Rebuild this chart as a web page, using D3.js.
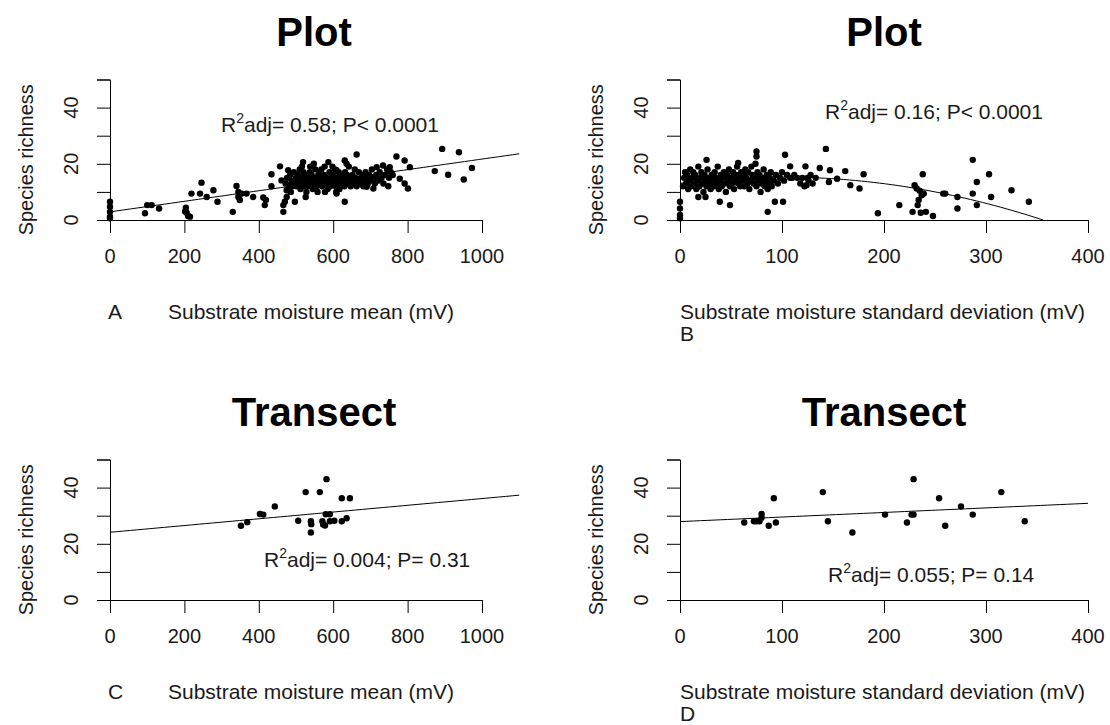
<!DOCTYPE html>
<html>
<head>
<meta charset="utf-8">
<script src="https://cdn.jsdelivr.net/npm/d3@7"></script>
<style>
  body { margin: 0; background: #fff; }
  svg text { font-family: "Liberation Sans", Arial, sans-serif; fill: #1a1a1a; }
  .title { font-weight: bold; font-size: 40px; fill: #000; }
  .tick-label { font-size: 20px; }
  .axis-title, .note { font-size: 21px; }
</style>
</head>
<body>
<div id="chart"></div>
<script>
// Species richness vs substrate moisture, 4 panels

// panel A: plot level, moisture mean
const plotMeanPts = [
  [0, 6.5], [0, 4.7], [0, 2.9], [0, 1.2], [0, 0.6],
  [94, 2.4], [100, 5.3], [112, 5.3], [132, 4.1],
  [202, 3], [204, 4.4], [206, 2.6], [210, 1.4], [215, 1.2],
  [219, 9.4], [242, 9.4], [246, 13.3], [260, 8.2], [278, 10.6], [289, 6.5],
  [330, 2.9], [340, 12.1], [345, 10], [345, 8.2], [349, 7.1], [354, 9.4], [367, 9.4], [385, 8.2],
  [412, 8], [416, 5.3], [419, 7.1],
  [434, 12], [434, 16.3], [457, 19.1], [461, 14.1], [466, 2.9], [466, 5.3], [470, 6.5],
  [475, 10.6], [475, 8.2], [479, 17.7], [484, 12.4],
  [497, 6.5], [526, 8.2], [519, 20.6], [587, 20.6], [609, 17.7], [609, 9.4], [631, 6.5],
  [631, 21.2], [636, 20], [663, 23.3], [690, 11.8], [708, 11.2], [717, 18.8], [734, 19.4],
  [752, 18.8], [770, 22.6], [779, 14.7], [792, 21.2], [792, 13], [801, 11.2], [806, 18.8],
  [873, 17.4], [893, 25.3], [909, 16.1], [938, 24.1], [951, 14.4], [973, 18.5],
  [472, 13], [476, 15], [480, 11], [484, 16], [488, 14], [490, 12], [494, 17], [498, 13], [500, 15], [486, 10],
  [502, 12], [505, 16], [508, 14], [510, 18], [512, 11], [515, 13], [518, 15], [520, 17], [522, 12],
  [525, 14], [527, 16], [530, 13], [528, 10], [516, 19],
  [532, 15], [535, 12], [537, 17], [540, 14], [542, 16], [545, 11], [547, 13], [550, 15], [552, 18],
  [555, 12], [557, 14], [560, 16], [538, 19], [548, 20], [558, 10],
  [562, 13], [565, 15], [567, 17], [570, 12], [572, 14], [575, 16], [577, 19], [580, 13], [582, 15],
  [585, 11], [587, 14], [590, 17], [568, 18], [578, 10],
  [592, 12], [595, 15], [597, 13], [600, 16], [602, 14], [605, 18], [607, 12], [610, 15], [612, 13],
  [615, 17], [617, 11], [620, 14], [598, 19], [608, 10],
  [622, 16], [625, 13], [627, 15], [630, 12], [632, 17], [635, 14], [637, 16], [640, 13], [642, 19],
  [645, 15], [647, 12], [650, 14],
  [652, 16], [655, 13], [658, 18], [660, 15], [663, 12], [666, 14], [669, 17], [672, 13], [675, 15],
  [678, 16], [681, 12], [684, 14], [687, 17], [690, 15],
  [693, 13], [697, 16], [700, 14], [704, 18], [708, 15], [712, 13], [716, 16], [720, 14], [725, 17],
  [730, 15], [735, 13], [740, 16], [745, 18], [750, 15], [755, 17], [760, 16], [748, 12]
]

// panel B: plot level, moisture standard deviation
const plotSdPts = [
  [0, 6.5], [0, 4.1], [0, 1.8], [0, 0.6],
  [86, 2.9], [93, 6.5], [101, 6.5], [103, 23.2], [75, 24.4], [75, 22.6], [26, 21.4], [57, 20.3],
  [39, 6.5], [49, 5.3], [18, 8.2], [25, 8.2],
  [108, 19.1], [123, 19.1], [124, 12.4], [126, 14.1], [137, 18.5], [143, 25.3], [147, 17.7],
  [146, 13.5], [154, 14.7], [162, 17.4], [167, 12.4], [176, 11.2], [180, 16.3],
  [194, 2.4], [215, 5.3], [228, 2.9], [230, 12.4], [232, 11.2], [235, 10.4], [237, 8.8], [234, 7.1],
  [233, 5.3], [238, 16.3], [239, 9.4], [236, 2.6], [241, 2.9], [248, 1.4],
  [258, 9.4], [260, 9.4], [272, 8.2], [272, 4.1], [287, 21.4], [287, 9.4], [291, 13.5], [291, 5.3],
  [303, 16.3], [305, 8.2], [325, 10.6], [342, 6.5],
  [3, 12], [4, 15], [5, 17], [6, 13], [7, 16], [8, 11], [9, 14], [10, 18], [11, 12], [12, 15],
  [13, 17], [14, 13], [15, 16], [16, 11], [17, 14], [18, 19], [19, 12], [20, 15],
  [21, 17], [22, 13], [23, 10], [24, 16], [25, 14], [26, 12], [27, 18], [28, 15], [29, 13], [30, 11],
  [31, 16], [32, 14], [33, 12], [34, 17], [35, 15], [36, 13], [37, 19], [38, 11], [39, 14], [40, 16],
  [41, 12], [42, 15], [43, 17], [44, 13], [45, 10], [46, 16], [47, 14], [48, 18], [49, 12], [50, 15],
  [51, 13], [52, 17], [53, 11], [54, 14], [55, 16], [56, 19], [57, 13], [58, 15], [59, 12], [60, 17],
  [61, 14], [62, 16], [63, 12], [64, 18], [65, 15], [66, 13], [67, 17], [68, 11], [69, 14], [70, 19],
  [71, 16], [72, 13], [73, 15], [74, 20], [75, 12], [76, 17], [77, 14], [78, 16], [79, 10], [80, 13],
  [81, 15], [82, 18], [83, 12], [84, 14], [85, 16], [86, 11], [87, 13], [88, 15], [89, 17], [90, 12],
  [92, 14], [94, 16], [96, 13], [98, 15], [100, 17],
  [102, 14], [105, 16], [108, 15], [110, 15], [112, 16], [115, 15], [118, 13], [120, 15], [122, 12],
  [125, 15], [128, 16], [130, 13], [133, 15]
]

// panel C: transect level, moisture mean
const transMeanPts = [
  [352, 26.4], [369, 27.7], [403, 30.6], [412, 30.4], [443, 33.3], [506, 28.2], [526, 38.4],
  [540, 28.0], [540, 24.0], [541, 27.0], [564, 38.4], [571, 28], [573, 26.9], [582, 43.0],
  [578, 26.5], [580, 30.5], [591, 30.5], [591, 28], [603, 28.2], [623, 36.2], [645, 36.2],
  [623, 28], [636, 29.1]
]

// panel D: transect level, moisture standard deviation
const transSdPts = [
  [63, 27.6], [72.5, 28.0], [75, 28], [80, 30.6], [80, 29.3], [78, 28], [87, 26.4], [92, 36.2],
  [94, 27.6], [140, 38.4], [145, 28], [169, 24], [201, 30.4], [222.5, 27.6], [229, 43],
  [229, 30.4], [227, 30.4], [254, 36.2], [260, 26.4], [275.5, 33.3], [287, 30.4], [315, 38.4],
  [338, 28]
]

// fitted model coefficients: intercept, slope (, quadratic)
const fitPlotMean = [2.9, 0.01878]
const fitPlotSd = [13.03, 0.0458, -0.0002315]
const fitTransMean = [24.1, 0.0120]
const fitTransSd = [27.9, 0.01625]

const meanTicks = [0, 200, 400, 600, 800, 1000]
const sdTicks = [0, 100, 200, 300, 400]
const yTicks = [0, 10, 20, 30, 40, 50]
const yLabelTicks = [0, 20, 40]

const titles = ['Plot', 'Plot', 'Transect', 'Transect']
const notes = [
  ['0.58', 'P< 0.0001'],
  ['0.16', 'P< 0.0001'],
  ['0.004', 'P= 0.31'],
  ['0.055', 'P= 0.14']
]
const letters = ['A', 'B', 'C', 'D']
const xTitles = ['Substrate moisture mean (mV)', 'Substrate moisture standard deviation (mV)']

const width = 1110
const height = 725

const svg = d3.select('#chart')
  .append('svg')
  .attr('width', width)
  .attr('height', height)

svg.append('rect').attr('width', width).attr('height', height).attr('fill', '#fff')

// panel layout (left edge, bottom axis y)
const panels = [
  { left: 110, bottom: 220, kind: 'mean', pts: plotMeanPts, fit: fitPlotMean, fitMax: 1100, noteX: 221, noteY: 132 },
  { left: 680, bottom: 220, kind: 'sd', pts: plotSdPts, fit: fitPlotSd, fitMax: 356, noteX: 825, noteY: 119 },
  { left: 110, bottom: 600, kind: 'mean', pts: transMeanPts, fit: fitTransMean, fitMax: 1100, noteX: 264, noteY: 567 },
  { left: 680, bottom: 600, kind: 'sd', pts: transSdPts, fit: fitTransSd, fitMax: 400, noteX: 828, noteY: 582 }
]

panels.forEach((p, i) => {
  const isMean = p.kind === 'mean'
  const x = d3.scaleLinear()
    .domain(isMean ? [0, 1000] : [0, 400])
    .range(isMean ? [p.left, p.left + 372] : [p.left, p.left + 408])
  const y = d3.scaleLinear().domain([0, 50]).range([p.bottom, p.bottom - 140.5])
  const g = svg.append('g')

  // title
  g.append('text')
    .attr('class', 'title')
    .attr('x', p.left + 204)
    .attr('y', p.bottom - 174)
    .attr('text-anchor', 'middle')
    .text(titles[i])

  // x axis
  const xAxis = d3.axisBottom(x)
    .tickValues(isMean ? meanTicks : sdTicks)
    .tickSize(13)
    .tickFormat('')
  const xg = g.append('g').attr('transform', `translate(0, ${p.bottom})`).call(xAxis)
  xg.select('.domain').attr('stroke', '#000')
  xg.selectAll('line').attr('stroke', '#000')
  g.selectAll(null)
    .data(isMean ? meanTicks : sdTicks)
    .enter()
    .append('text')
    .attr('class', 'tick-label')
    .attr('x', d => x(d))
    .attr('y', p.bottom + 43)
    .attr('text-anchor', 'middle')
    .text(d => d)

  // y axis
  const yAxis = d3.axisLeft(y).tickValues(yTicks).tickSize(13).tickFormat('')
  const yg = g.append('g').attr('transform', `translate(${p.left}, 0)`).call(yAxis)
  yg.select('.domain').attr('stroke', '#000')
  yg.selectAll('line').attr('stroke', '#000')
  g.selectAll(null)
    .data(yLabelTicks)
    .enter()
    .append('text')
    .attr('class', 'tick-label')
    .attr('transform', d => `translate(${p.left - 32}, ${y(d)}) rotate(-90)`)
    .attr('text-anchor', 'middle')
    .text(d => d)

  g.append('text')
    .attr('class', 'tick-label')
    .attr('transform', `translate(${p.left - 77}, ${y(25) + 10}) rotate(-90)`)
    .attr('text-anchor', 'middle')
    .text('Species richness')

  // x axis title and panel letter
  if (isMean) {
    g.append('text').attr('class', 'axis-title')
      .attr('x', p.left - 2).attr('y', p.bottom + 99).text(letters[i])
    g.append('text').attr('class', 'axis-title')
      .attr('x', p.left + 58).attr('y', p.bottom + 99).text(xTitles[0])
  } else {
    g.append('text').attr('class', 'axis-title')
      .attr('x', p.left).attr('y', p.bottom + 99).text(xTitles[1])
    g.append('text').attr('class', 'axis-title')
      .attr('x', p.left).attr('y', p.bottom + 121).text(letters[i])
  }

  // fitted line
  const c = p.fit
  const fx = v => c[0] + c[1] * v + (c[2] || 0) * v * v
  const xs = d3.range(0, p.fitMax + 0.001, p.fitMax / 60)
  g.append('path')
    .datum(xs)
    .attr('fill', 'none')
    .attr('stroke', '#000')
    .attr('stroke-width', 1)
    .attr('d', d3.line().x(v => x(v)).y(v => y(fx(v))))

  // points
  g.selectAll('circle')
    .data(p.pts)
    .enter()
    .append('circle')
    .attr('cx', d => x(d[0]))
    .attr('cy', d => y(d[1]))
    .attr('r', 3.2)
    .attr('fill', '#000')

  // R2 note
  const note = g.append('text')
    .attr('class', 'note')
    .attr('x', p.noteX)
    .attr('y', p.noteY)
  note.append('tspan').text('R')
  note.append('tspan').attr('dy', -9).attr('font-size', 14).text('2')
  note.append('tspan').attr('dy', 9).text(`adj= ${notes[i][0]}; ${notes[i][1]}`)
})
</script>
</body>
</html>
